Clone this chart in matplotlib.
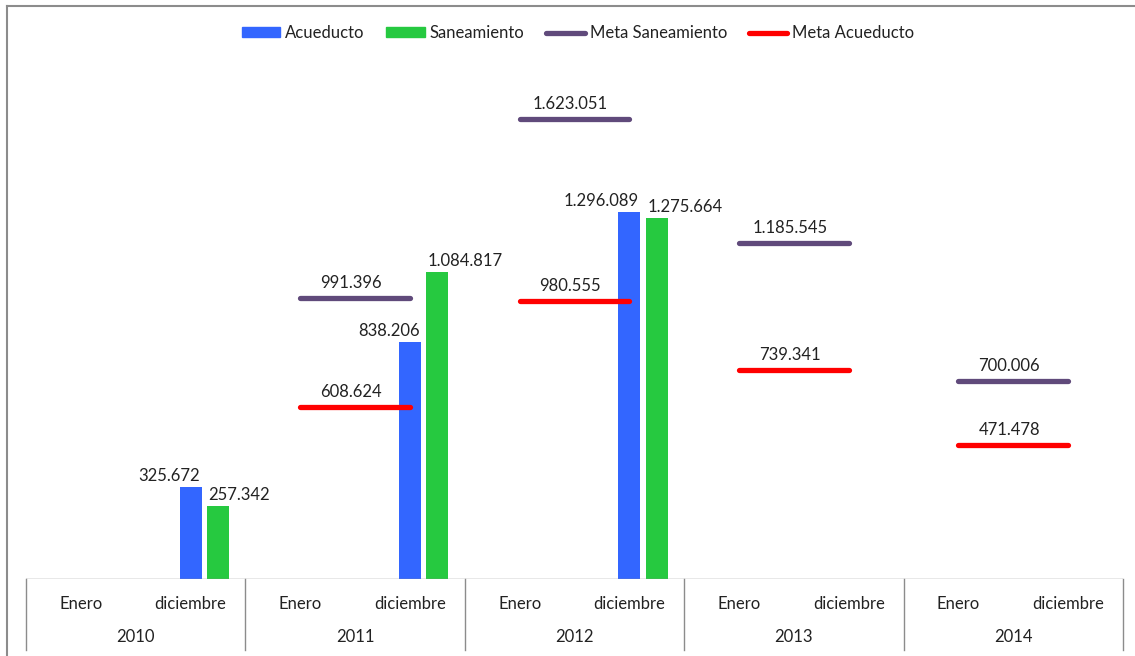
import numpy as np
import matplotlib.pyplot as plt
from matplotlib.lines import Line2D

plt.rcParams['font.family'] = ['Lato', 'DejaVu Sans']

# Data
years = ["2010", "2011", "2012", "2013", "2014"]
months = ["Enero", "diciembre"]
acueducto = [325672, 838206, 1296089, np.nan, np.nan]
saneamiento = [257342, 1084817, 1275664, np.nan, np.nan]
meta_saneamiento = [np.nan, 991396, 1623051, 1185545, 700006]
meta_acueducto = [np.nan, 608624, 980555, 739341, 471478]

c_acu = '#3366FF'
c_san = '#26C940'
c_msan = '#604A7B'
c_macu = '#FF0000'
txt = '#222222'
grid_c = '#8C8C8C'


def fmt(v):
    return f"{v:,.0f}".replace(",", ".")


W, H = 1135, 656
fig = plt.figure(figsize=(W / 100, H / 100), dpi=100)
ax = fig.add_axes([26 / W, 77 / H, (1123 - 26) / W, 519 / H])
ax.set_xlim(-0.5, 2 * len(years) - 0.5)
ax.set_ylim(0, 519 / 283.3e-6)
ax.axis('off')

x_dic = np.arange(len(years)) * 2 + 1
bw = 0.2
b1 = ax.bar(x_dic, acueducto, width=bw, color=c_acu, label='Acueducto')
b2 = ax.bar(x_dic + 0.25, saneamiento, width=bw, color=c_san, label='Saneamiento')

# Bar value labels
for bar, v in zip(b1, acueducto):
    if not np.isnan(v):
        ax.annotate(fmt(v), (bar.get_x() + bar.get_width(), v), xytext=(-1, 2),
                    textcoords='offset points', ha='right', va='bottom',
                    fontsize=12, color=txt)
for bar, v in zip(b2, saneamiento):
    if not np.isnan(v):
        ax.annotate(fmt(v), (bar.get_x(), v), xytext=(1, 2),
                    textcoords='offset points', ha='left', va='bottom',
                    fontsize=12, color=txt)

# Meta lines (Enero -> diciembre within each year)
for series, color in [(meta_saneamiento, c_msan), (meta_acueducto, c_macu)]:
    for i, v in enumerate(series):
        if np.isnan(v):
            continue
        ax.plot([2 * i, 2 * i + 1], [v, v], color=color, lw=3.8,
                solid_capstyle='round')
        ax.annotate(fmt(v), (2 * i + 0.5, v), xytext=(-3, 5),
                    textcoords='offset points', ha='center', va='bottom',
                    fontsize=12, color=txt)

# Category axis
ax.axhline(0, color=grid_c, lw=1)
xt = ax.get_xaxis_transform()
for i, y in enumerate(years):
    for j, m in enumerate(months):
        ax.text(2 * i + j, -25 / 519, m, transform=xt, ha='center', va='center',
                fontsize=12, color=txt)
    ax.text(2 * i + 0.5, -58 / 519, y, transform=xt, ha='center', va='center',
            fontsize=12, color=txt)
for k in range(len(years) + 1):
    ax.plot([2 * k - 0.5] * 2, [0, -71 / 519], transform=xt, color=grid_c,
            lw=1, clip_on=False)

# Legend
handles = [
    plt.Rectangle((0, 0), 1, 1, color=c_acu),
    plt.Rectangle((0, 0), 1, 1, color=c_san),
    Line2D([], [], color=c_msan, lw=3.8, solid_capstyle='round'),
    Line2D([], [], color=c_macu, lw=3.8, solid_capstyle='round'),
]
labels = ['Acueducto', 'Saneamiento', 'Meta Saneamiento', 'Meta Acueducto']
fig.legend(handles, labels, loc='center', bbox_to_anchor=(578 / W, 1 - 33 / H),
           ncol=4, frameon=False, fontsize=12, handlelength=2.3,
           handleheight=0.55, handletextpad=0.3, columnspacing=1.3,
           labelcolor=txt)

# Outer frame (top and left)
fig.add_artist(Line2D([7 / W, 1], [1 - 6 / H, 1 - 6 / H], color='#8C8C8C', lw=1.5))
fig.add_artist(Line2D([7 / W, 7 / W], [0, 1 - 6 / H], color='#8C8C8C', lw=1.5))

fig.savefig('out.png', dpi=100)
